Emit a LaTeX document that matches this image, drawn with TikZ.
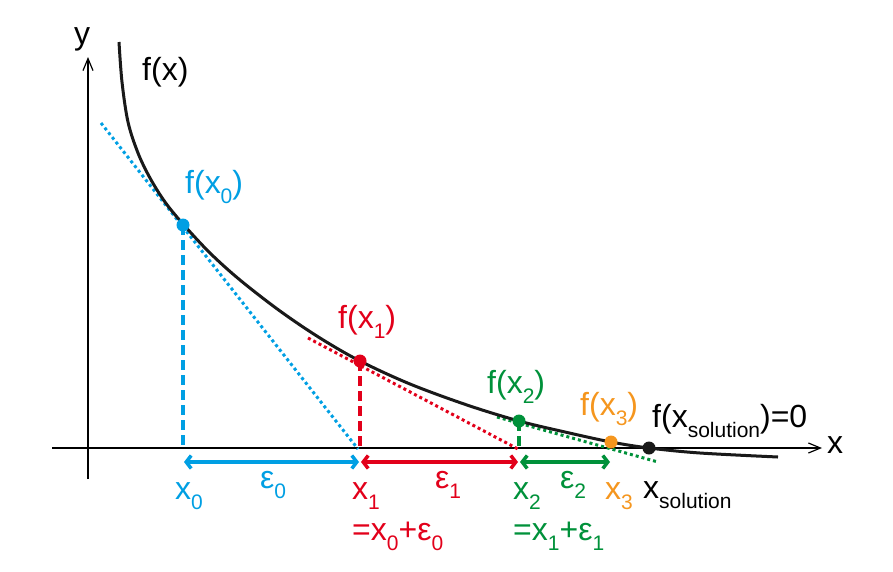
\documentclass[tikz,border=0pt]{standalone}
\usepackage{fontspec}
\setmainfont{Liberation Sans}
\usetikzlibrary{arrows.meta}
\definecolor{cblue}{RGB}{0,159,227}
\definecolor{cred}{RGB}{226,0,26}
\definecolor{cgreen}{RGB}{0,145,58}
\definecolor{corange}{RGB}{245,150,30}
\newcommand\sbx[1]{\raisebox{-10pt}{\fontsize{21}{21}\selectfont #1}}
\newcommand\mainfs{\fontsize{32}{36}\selectfont}
\begin{document}
\begin{tikzpicture}[x=1pt,y=-1pt,
  lbl/.style={inner sep=0pt, anchor=base west, font=\mainfs},
  axisline/.style={line width=1.2pt, -{Straight Barb[length=12pt,width=10pt]}},
  dotline/.style={line width=3pt, dash pattern=on 3pt off 3pt},
  dashv/.style={line width=4pt, dash pattern=on 10pt off 5pt},
  span/.style={line width=3.5pt, {Straight Barb[length=5pt,width=13pt]}-{Straight Barb[length=5pt,width=13pt]}},
  pt/.style={circle, fill, inner sep=0pt, minimum size=13pt}]
\useasboundingbox (0,0) rectangle (893,571);
% axes
\coordinate (xl) at (52,448);
\coordinate (xr) at (822,448);
\coordinate (yb) at (88,479);
\coordinate (yt) at (88,57);
\draw[axisline] (xl) -- (xr);
\draw[axisline] (yb) -- (yt);
\node[lbl] (ylab) at (74,44) {y};
\node[lbl] (xlab) at (827,453) {x};
% points
\coordinate (p0) at (183,225);
\coordinate (p1) at (360,361);
\coordinate (p2) at (519,421);
\coordinate (p3) at (611,442);
\coordinate (ps) at (649,448);
\coordinate (q0) at (183,449);
\coordinate (q1) at (360,449);
\coordinate (q2) at (519,449);
% tangents
\coordinate (t0a) at (101,123); \coordinate (t0b) at (358,449);
\coordinate (t1a) at (308,338); \coordinate (t1b) at (518,449);
\coordinate (t2a) at (497,417); \coordinate (t2b) at (658,462);
\draw[dotline, cblue] (t0a) -- (t0b);
\draw[dotline, cred] (t1a) -- (t1b);
\draw[dotline, cgreen] (t2a) -- (t2b);
% verticals
\draw[dashv, cblue] (p0) -- (q0);
\draw[dashv, cred] (p1) -- (q1);
\draw[dashv, cgreen] (p2) -- (q2);
% curve
\draw[line width=3pt, black!90] plot[smooth, tension=0.55] coordinates {
 (119,42) (122,82) (128,122) (138,153) (150,178) (165,202) (183,224) (210,253)
 (240,280) (280,311) (320,338) (360,361) (410,384) (467,405) (519,421)
 (565,432) (611,442) (649,448) (700,453) (778,457)};
% dots
\node[pt, cblue] (d0) at (p0) {};
\node[pt, cred] (d1) at (p1) {};
\node[pt, cgreen] (d2) at (p2) {};
\node[pt, corange] (d3) at (p3) {};
\node[pt, black!90] (ds) at (ps) {};
% spans
\coordinate (s0) at (184,462); \coordinate (s1) at (359,462);
\coordinate (s1b) at (361,462); \coordinate (s2) at (518,462);
\coordinate (s2b) at (520,462); \coordinate (s3) at (610,462);
\draw[span, cblue] (s0) -- (s1);
\draw[span, cred] (s1b) -- (s2);
\draw[span, cgreen] (s2b) -- (s3);
% labels
\node[lbl] (fx) at (142,80) {f(x)};
\node[lbl, cblue] (fx0) at (185,193) {f(x\sbx{0})};
\node[lbl, cred] (fx1) at (338,328) {f(x\sbx{1})};
\node[lbl, cgreen] (fx2) at (487,393) {f(x\sbx{2})};
\node[lbl, corange] (fx3) at (580,415) {f(x\sbx{3})};
\node[lbl] (fxs) at (652,427) {f(x\sbx{solution})=0};
\node[lbl, cblue] (x0) at (175,499) {x\sbx{0}};
\node[lbl, cblue] (e0) at (260,488) {ε\sbx{0}};
\node[lbl, cred] (x1) at (352,499) {x\sbx{1}};
\node[lbl, cred] (e1) at (435,488) {ε\sbx{1}};
\node[lbl, cred] (x1e) at (352,540) {=x\sbx{0}+ε\sbx{0}};
\node[lbl, cgreen] (x2) at (513,499) {x\sbx{2}};
\node[lbl, cgreen] (e2) at (560,488) {ε\sbx{2}};
\node[lbl, cgreen] (x2e) at (513,540) {=x\sbx{1}+ε\sbx{1}};
\node[lbl, corange] (x3) at (605,499) {x\sbx{3}};
\node[lbl] (xs) at (643,498) {x\sbx{solution}};
\end{tikzpicture}
\end{document}
